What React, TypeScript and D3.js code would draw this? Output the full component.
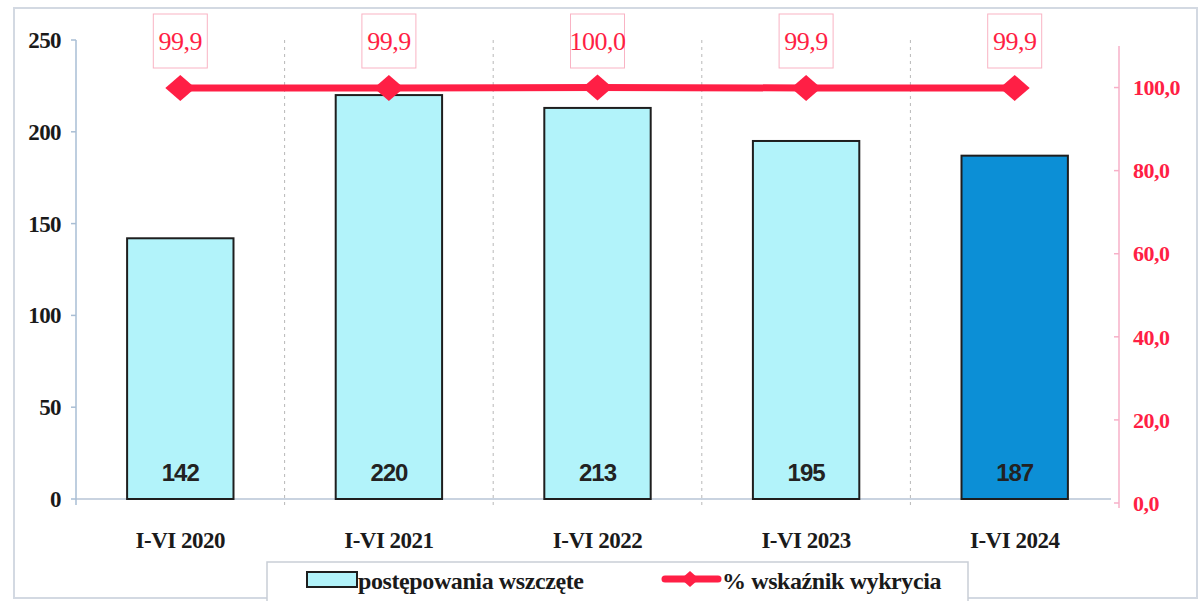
import React from "react";
import * as d3 from "d3";

const categories = ["I-VI 2020", "I-VI 2021", "I-VI 2022", "I-VI 2023", "I-VI 2024"];
const cases = [142, 220, 213, 195, 187];
const detection = [99.9, 99.9, 100.0, 99.9, 99.9];
const detectionLabels = ["99,9", "99,9", "100,0", "99,9", "99,9"];
const leftTicks = [0, 50, 100, 150, 200, 250];
const rightTicks = [0, 20, 40, 60, 80, 100];
const barColors = ["#b2f3fa", "#b2f3fa", "#b2f3fa", "#b2f3fa", "#0c8fd6"];

const W = 1199;
const H = 601;
const left = 76;
const right = 1119;
const top = 40;
const bottom = 499;

export default function App() {
  const x = d3.scaleBand<string>().domain(categories).range([left, right]).paddingInner(0.49).paddingOuter(0.245);
  const xb = d3.scaleBand<string>().domain(categories).range([left, right]);
  const y = d3.scaleLinear().domain([0, 250]).range([bottom, top]);
  const yr = d3.scaleLinear().domain([0, 110]).range([503, 46]);
  const line = d3
    .line<number>()
    .x((_, i) => (xb(categories[i]) as number) + xb.bandwidth() / 2)
    .y((d) => yr(d));
  const red = "#ff1f45";
  const serif = "'Liberation Serif', 'Times New Roman', serif";
  const sans = "'Liberation Sans', Arial, sans-serif";
  const diamond = (cx: number, cy: number, r: number, ry: number) =>
    `M${cx - r},${cy} L${cx},${cy - ry} L${cx + r},${cy} L${cx},${cy + ry} Z`;

  return (
    <svg width={W} height={H} style={{ position: "absolute", left: 0, top: 0, background: "#fff" }}>
      <rect x={14} y={8} width={1183} height={590} fill="#fff" stroke="#d3d9e2" strokeWidth={2} />
      {/* vertical dashed gridlines at band boundaries */}
      {categories.slice(1).map((c) => {
        const gx = xb(c) as number;
        return (
          <line key={c} x1={gx} x2={gx} y1={top} y2={bottom + 10} stroke="#b8b8b8" strokeWidth={1} strokeDasharray="3,4" />
        );
      })}
      {/* x baseline */}
      <line x1={left} x2={right - 8} y1={bottom} y2={bottom} stroke="#b7c4d6" strokeWidth={1.5} />
      {/* left axis */}
      <line x1={left} x2={left} y1={top} y2={bottom + 6} stroke="#a9bed4" strokeWidth={1.5} />
      {leftTicks.map((t) => (
        <g key={t}>
          <line x1={left - 5} x2={left} y1={y(t)} y2={y(t)} stroke="#a9bed4" strokeWidth={1.5} />
          <text x={61} y={y(t)} dy="0.35em" textAnchor="end" fontFamily={serif} fontWeight="bold" fontSize={23} letterSpacing={-0.6} fill="#1a1a1a">
            {t}
          </text>
        </g>
      ))}
      {/* right axis */}
      <line x1={right} x2={right} y1={46} y2={508} stroke="#f7b0c8" strokeWidth={1.5} />
      {rightTicks.map((t) => (
        <g key={t}>
          <line x1={right - 5} x2={right} y1={yr(t)} y2={yr(t)} stroke="#f7b0c8" strokeWidth={1.5} />
          <text x={1133} y={yr(t)} dy="0.35em" textAnchor="start" fontFamily={serif} fontWeight="bold" fontSize={22} letterSpacing={-0.5} fill={red}>
            {d3.format(".1f")(t).replace(".", ",")}
          </text>
        </g>
      ))}
      {/* bars */}
      {cases.map((v, i) => (
        <g key={categories[i]}>
          <rect
            x={x(categories[i])}
            y={y(v)}
            width={x.bandwidth()}
            height={bottom - y(v)}
            fill={barColors[i]}
            stroke="#1e1e1e"
            strokeWidth={2}
          />
          <text
            x={(x(categories[i]) as number) + x.bandwidth() / 2}
            y={481}
            textAnchor="middle"
            fontFamily={sans}
            fontWeight="bold"
            fontSize={24}
            letterSpacing={-1}
            fill="#222"
          >
            {v}
          </text>
          <text
            x={(xb(categories[i]) as number) + xb.bandwidth() / 2}
            y={548}
            textAnchor="middle"
            fontFamily={serif}
            fontWeight="bold"
            fontSize={23}
            letterSpacing={-0.5}
            fill="#1a1a1a"
          >
            {categories[i]}
          </text>
        </g>
      ))}
      {/* line */}
      <path d={line(detection) as string} fill="none" stroke={red} strokeWidth={7} />
      {detection.map((v, i) => {
        const cx = (xb(categories[i]) as number) + xb.bandwidth() / 2;
        const cy = yr(v);
        return (
          <g key={"p" + i}>
            <path d={diamond(cx, cy, 15, 13)} fill={red} />
            <rect x={cx - 27} y={14} width={54} height={54} fill="#fff" stroke="#f9b3c4" strokeWidth={1} />
            <text x={cx} y={50} textAnchor="middle" fontFamily={serif} fontSize={26} letterSpacing={-0.5} fill={red}>
              {detectionLabels[i]}
            </text>
          </g>
        );
      })}
      {/* legend */}
      <rect x={267} y={562} width={701} height={45} fill="#fff" stroke="#c9ced6" strokeWidth={1.5} />
      <rect x={307} y={572} width={50} height={15} fill="#b2f3fa" stroke="#1e1e1e" strokeWidth={2} />
      <text x={358} y={589} fontFamily={serif} fontWeight="bold" fontSize={24} letterSpacing={-0.4} fill="#1a1a1a">
        postępowania wszczęte
      </text>
      <line x1={665} x2={718} y1={579} y2={579} stroke={red} strokeWidth={7} strokeLinecap="round" />
      <path d={diamond(690, 579, 9, 8)} fill={red} />
      <text x={722} y={589} fontFamily={serif} fontWeight="bold" fontSize={24} letterSpacing={-0.4} fill="#1a1a1a">
        % wskaźnik wykrycia
      </text>
    </svg>
  );
}
